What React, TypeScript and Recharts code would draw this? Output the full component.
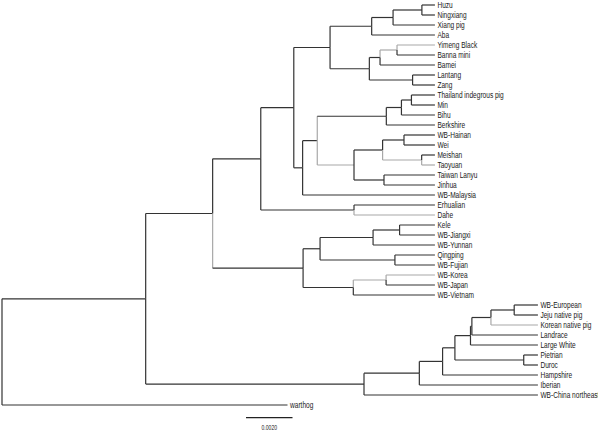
import React from 'react';
import { ComposedChart, XAxis, YAxis, Scatter, ReferenceLine } from 'recharts';

// tip labels, top to bottom
const leafNames = [
  'Huzu', 'Ningxiang', 'Xiang pig', 'Aba', 'Yimeng Black', 'Banna mini', 'Bamei', 'Lantang', 'Zang',
  'Thailand indegrous pig', 'Min', 'Bihu', 'Berkshire', 'WB-Hainan', 'Wei', 'Meishan', 'Taoyuan',
  'Taiwan Lanyu', 'Jinhua', 'WB-Malaysia', 'Erhualian', 'Dahe', 'Kele', 'WB-Jiangxi', 'WB-Yunnan',
  'Qingping', 'WB-Fujian', 'WB-Korea', 'WB-Japan', 'WB-Vietnam', 'WB-European', 'Jeju native pig',
  'Korean native pig', 'Landrace', 'Large White', 'Pietrian', 'Duroc', 'Hampshire', 'Iberian',
  'WB-China northeast', 'warthog'
];

// distance from root for each tip
const leafDepths = [
  0.01862, 0.01862, 0.01862, 0.01862, 0.01862, 0.01862, 0.01862, 0.01862, 0.01862, 0.01862,
  0.01862, 0.01862, 0.01862, 0.01862, 0.01862, 0.01862, 0.01862, 0.01862, 0.01862, 0.01862,
  0.01862, 0.01862, 0.01862, 0.01862, 0.01862, 0.01862, 0.01862, 0.01862, 0.01862, 0.01862,
  0.02305, 0.02305, 0.02305, 0.02305, 0.02305, 0.02305, 0.02305, 0.02305, 0.02305, 0.02305,
  0.01228
];

// internal nodes: [id, depth, children]
const clades: [string, number, string[]][] = [
  ['R', 0, ['A', 'warthog']],
  ['A', 0.00618, ['B', 'E']],
  ['B', 0.00906, ['C', 'K']],
  ['C', 0.01113, ['D', 'ED']],
  ['D', 0.01255, ['F', 'G']],
  ['F', 0.01411, ['F1', 'F2']],
  ['F1', 0.0159, ['HNX', 'Aba']],
  ['HNX', 0.01682, ['HN', 'Xiang pig']],
  ['HN', 0.01806, ['Huzu', 'Ningxiang']],
  ['F2', 0.0158, ['YBB', 'LZ']],
  ['YBB', 0.01626, ['YB', 'Bamei']],
  ['YB', 0.01699, ['Yimeng Black', 'Banna mini']],
  ['LZ', 0.01766, ['Lantang', 'Zang']],
  ['G', 0.01293, ['G1', 'WB-Malaysia']],
  ['G1', 0.01356, ['BK', 'G2']],
  ['BK', 0.01653, ['TMB', 'Berkshire']],
  ['TMB', 0.01718, ['TM', 'Bihu']],
  ['TM', 0.01761, ['Thailand indegrous pig', 'Min']],
  ['G2', 0.01514, ['HWMT', 'TJ']],
  ['HWMT', 0.01637, ['HW', 'MT']],
  ['HW', 0.01729, ['WB-Hainan', 'Wei']],
  ['MT', 0.01805, ['Meishan', 'Taoyuan']],
  ['TJ', 0.01643, ['Taiwan Lanyu', 'Jinhua']],
  ['ED', 0.01514, ['Erhualian', 'Dahe']],
  ['K', 0.01295, ['K1', 'K2']],
  ['K1', 0.01368, ['KJY', 'QF']],
  ['KJY', 0.01596, ['KJ', 'WB-Yunnan']],
  ['KJ', 0.0171, ['Kele', 'WB-Jiangxi']],
  ['QF', 0.0169, ['Qingping', 'WB-Fujian']],
  ['K2', 0.01511, ['KJ2', 'WB-Vietnam']],
  ['KJ2', 0.01652, ['WB-Korea', 'WB-Japan']],
  ['E', 0.01557, ['E1', 'WB-China northeast']],
  ['E1', 0.01795, ['E2', 'Iberian']],
  ['E2', 0.01895, ['E3', 'Hampshire']],
  ['E3', 0.01948, ['E4', 'PD']],
  ['E4', 0.02015, ['E5', 'Large White']],
  ['E5', 0.02021, ['E6', 'Landrace']],
  ['E6', 0.02103, ['E7', 'Korean native pig']],
  ['E7', 0.02203, ['WB-European', 'Jeju native pig']],
  ['PD', 0.02244, ['Pietrian', 'Duroc']]
];

// branches drawn in light grey (vertical connector / horizontal stem)
const lightVertical = ['K', 'BK', 'G2', 'YB', 'Yimeng Black', 'MT', 'Taoyuan', 'Dahe', 'KJ2', 'WB-Korea', 'Korean native pig'];
const lightHorizontal = ['YB', 'Yimeng Black', 'G2', 'MT', 'Taoyuan', 'Dahe', 'KJ2', 'WB-Korea', 'Korean native pig'];

const scaleBarLength = 0.002;
const scaleBarStart = 0.010495;
const scaleBarLabel = '0.0020';

const DARK = '#333333';
const LIGHT = '#a8a8a8';
const FONT = "'Liberation Sans', Arial, sans-serif";
const SQUEEZE = 0.73; // labels in the figure use a condensed face

const W = 600;
const H = 431;
const xMax = 596 * scaleBarLength / 46.5;

// node positions
const pos: Record<string, { x: number; y: number }> = {};
leafNames.forEach((n, i) => { pos[n] = { x: leafDepths[i], y: i }; });
const cladeMap: Record<string, [string, number, string[]]> = {};
clades.forEach(c => { cladeMap[c[0]] = c; });
const getPos = (id: string): { x: number; y: number } => {
  if (pos[id]) return pos[id];
  const [, depth, kids] = cladeMap[id];
  const ys = kids.map(k => getPos(k).y);
  pos[id] = { x: depth, y: (ys[0] + ys[ys.length - 1]) / 2 };
  return pos[id];
};
clades.forEach(c => getPos(c[0]));

type Seg = { key: string; a: { x: number; y: number }; b: { x: number; y: number }; color: string };
const segments: Seg[] = [];
clades.forEach(([id, , kids]) => {
  const p = pos[id];
  kids.forEach(k => {
    const c = pos[k];
    segments.push({
      key: `v-${id}-${k}`,
      a: { x: p.x, y: p.y },
      b: { x: p.x, y: c.y },
      color: lightVertical.includes(k) ? LIGHT : DARK
    });
    segments.push({
      key: `h-${id}-${k}`,
      a: { x: p.x, y: c.y },
      b: { x: c.x, y: c.y },
      color: lightHorizontal.includes(k) ? LIGHT : DARK
    });
  });
});

const tipData = leafNames.map((name, i) => ({ x: leafDepths[i], y: i, name }));
const scaleData = [{ x: scaleBarStart + scaleBarLength / 2, y: 42.2, name: scaleBarLabel }];

const TipLabel = (props: any) => {
  const { cx, cy, payload } = props;
  return (
    <text
      transform={`translate(${cx + 2.5},${cy}) scale(${SQUEEZE},1)`}
      dominantBaseline="central"
      fontSize={9}
      fill="#1a1a1a"
      fontFamily={FONT}
    >
      {payload.name}
    </text>
  );
};

const ScaleLabel = (props: any) => {
  const { cx, cy, payload } = props;
  return (
    <text
      transform={`translate(${cx},${cy}) scale(${SQUEEZE},1)`}
      dominantBaseline="central"
      textAnchor="middle"
      fontSize={7}
      fill="#1a1a1a"
      fontFamily={FONT}
    >
      {payload.name}
    </text>
  );
};

const App: React.FC = () => {
  return (
    <div style={{ position: 'absolute', left: 0, top: 0, width: W, height: H, background: '#fff' }}>
      <ComposedChart width={W} height={H} margin={{ top: 0, right: 2, bottom: 0, left: 2 }}>
        <XAxis type="number" dataKey="x" domain={[0, xMax]} hide allowDataOverflow />
        <YAxis type="number" dataKey="y" domain={[-0.5, 42.6]} reversed hide allowDataOverflow />
        {segments.map(s => (
          <ReferenceLine
            key={s.key}
            segment={[s.a, s.b]}
            stroke={s.color}
            strokeWidth={1.2}
            ifOverflow="visible"
          />
        ))}
        <ReferenceLine
          segment={[{ x: scaleBarStart, y: 41.27 }, { x: scaleBarStart + scaleBarLength, y: 41.27 }]}
          stroke="#222"
          strokeWidth={1.2}
          ifOverflow="visible"
        />
        <Scatter data={tipData} shape={TipLabel} isAnimationActive={false} />
        <Scatter data={scaleData} shape={ScaleLabel} isAnimationActive={false} />
      </ComposedChart>
    </div>
  );
};

export default App;
